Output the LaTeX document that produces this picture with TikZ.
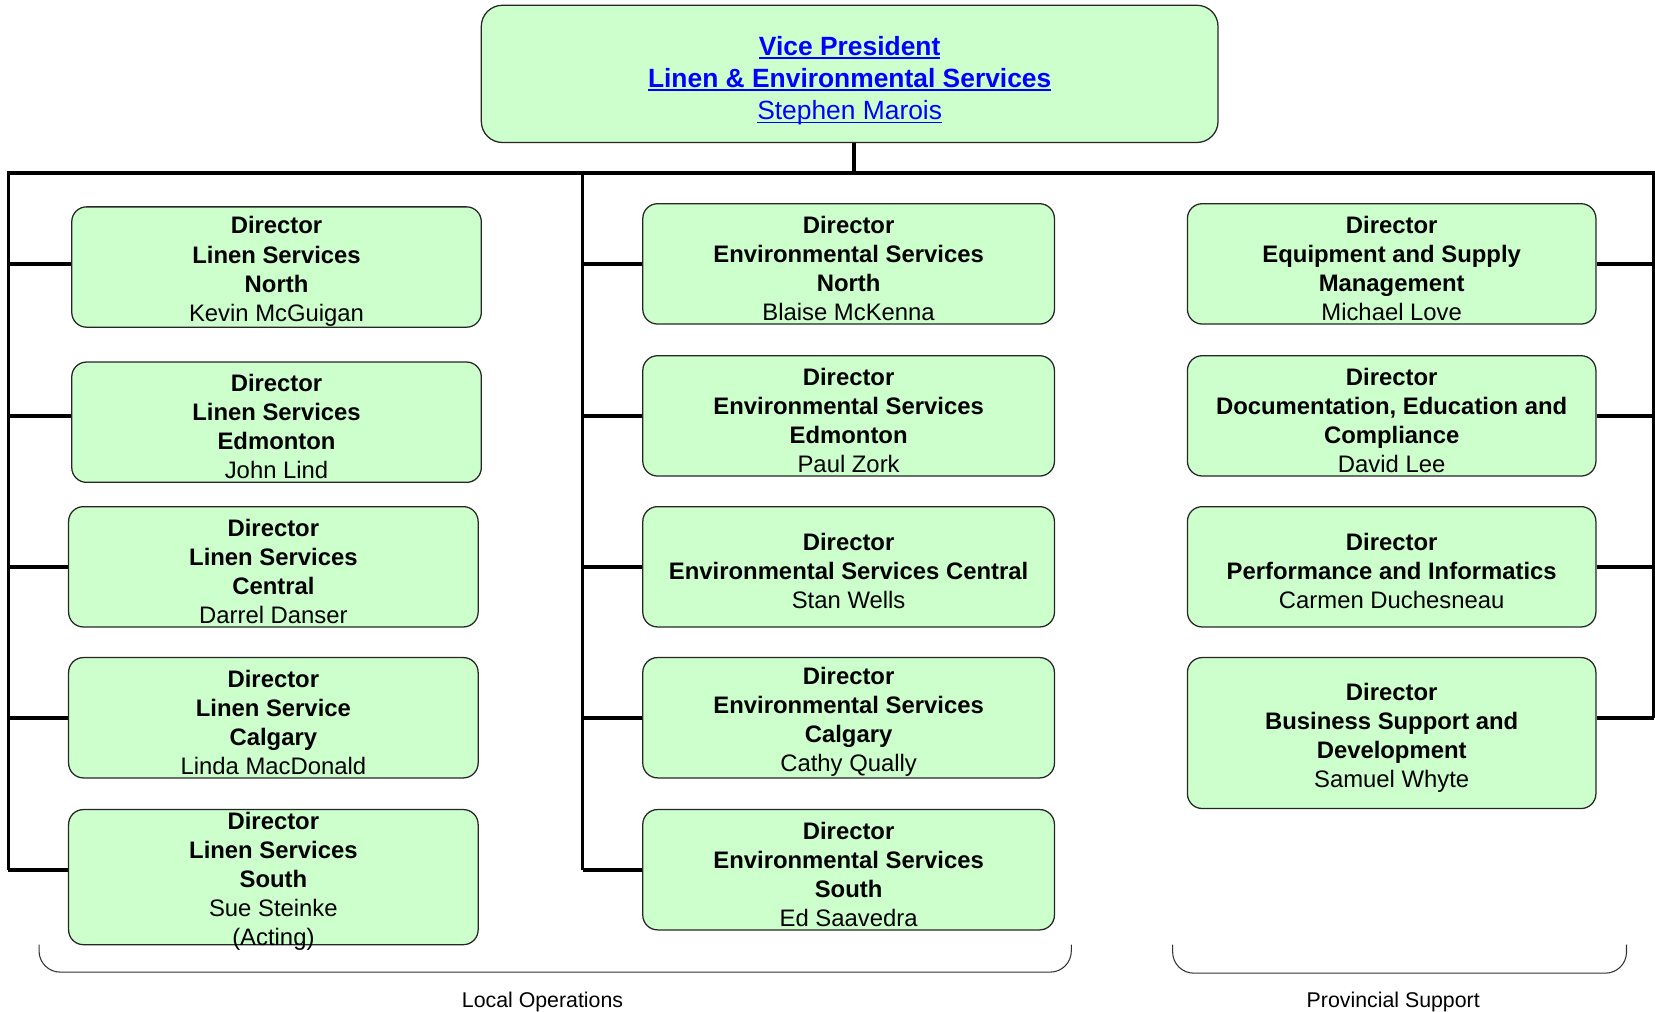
\documentclass[tikz,border=0pt]{standalone}
\usepackage{fontspec}
\setmainfont{Liberation Sans}
\definecolor{boxgreen}{HTML}{CCFFCC}
\definecolor{linkblue}{HTML}{0000FF}
\newcommand\myul[1]{\setbox0\hbox{#1}\rlap{\rule[-1.7pt]{\wd0}{0.9pt}}\box0}
\begin{document}
\begin{tikzpicture}[x=0.5pt,y=-0.5pt,
  box/.style={draw=black!85, line width=0.6pt, fill=boxgreen, rounded corners=7pt, inner sep=0pt},
  lbox/.style={box, minimum width=194pt, minimum height=57pt},
  mbox/.style={box, minimum width=195pt, minimum height=57pt},
  rbox/.style={box, minimum width=193.5pt, minimum height=57pt},
  txt/.style={align=center, inner sep=0pt, yshift=-1.3pt, font=\fontsize{11.3}{13.75}\selectfont},
  bus/.style={line width=1.7pt, black},
  bracket/.style={line width=0.5pt, black!80, rounded corners=10pt},
  lab/.style={inner sep=0pt, yshift=-1.5pt, font=\fontsize{10.1}{12}\selectfont},
]
\useasboundingbox (0,0) rectangle (1568,958);

% top box
\node[box, rounded corners=10pt, minimum width=349pt, minimum height=65pt] (top) at (805,70) {};
\node[txt, yshift=-1pt, font=\fontsize{12.5}{15.25}\selectfont, text=linkblue] (toptxt) at (805,72)
  {\textbf{\myul{Vice President}}\\ \textbf{\myul{Linen \& Environmental Services}}\\ \myul{Stephen Marois}};

% left column
\node[lbox] (L1) at (262,253) {};
\node[txt] at (262,254.5) {\textbf{Director}\\ \textbf{Linen Services}\\ \textbf{North}\\ Kevin McGuigan};
\node[lbox] (L2) at (262,400) {};
\node[txt] at (262,401.5) {\textbf{Director}\\ \textbf{Linen Services}\\ \textbf{Edmonton}\\ John Lind};
\node[lbox] (L3) at (259,537) {};
\node[txt] at (259,538.5) {\textbf{Director}\\ \textbf{Linen Services}\\ \textbf{Central}\\ Darrel Danser};
\node[lbox] (L4) at (259,680) {};
\node[txt] at (259,681.5) {\textbf{Director}\\ \textbf{Linen Service}\\ \textbf{Calgary}\\ Linda MacDonald};
\node[lbox, minimum height=64pt] (L5) at (259,831) {};
\node[txt] at (259,832.5) {\textbf{Director}\\ \textbf{Linen Services}\\ \textbf{South}\\ Sue Steinke\\ (Acting)};

% middle column
\node[mbox] (M1) at (804,250) {};
\node[txt] at (804,251.5) {\textbf{Director}\\ \textbf{Environmental Services}\\ \textbf{North}\\ Blaise McKenna};
\node[mbox] (M2) at (804,394) {};
\node[txt] at (804,395.5) {\textbf{Director}\\ \textbf{Environmental Services}\\ \textbf{Edmonton}\\ Paul Zork};
\node[mbox] (M3) at (804,537) {};
\node[txt] at (804,538.5) {\textbf{Director}\\ \textbf{Environmental Services Central}\\ Stan Wells};
\node[mbox] (M4) at (804,680) {};
\node[txt] at (804,681.5) {\textbf{Director}\\ \textbf{Environmental Services}\\ \textbf{Calgary}\\ Cathy Qually};
\node[mbox] (M5) at (804,824) {};
\node[txt] at (804,825.5) {\textbf{Director}\\ \textbf{Environmental Services}\\ \textbf{South}\\ Ed Saavedra};

% right column
\node[rbox] (R1) at (1318.5,250) {};
\node[txt] at (1318.5,251.5) {\textbf{Director}\\ \textbf{Equipment and Supply}\\ \textbf{Management}\\ Michael Love};
\node[rbox] (R2) at (1318.5,394) {};
\node[txt] at (1318.5,395.5) {\textbf{Director}\\ \textbf{Documentation, Education and}\\ \textbf{Compliance}\\ David Lee};
\node[rbox] (R3) at (1318.5,537) {};
\node[txt] at (1318.5,538.5) {\textbf{Director}\\ \textbf{Performance and Informatics}\\ Carmen Duchesneau};
\node[rbox, minimum height=71.5pt] (R4) at (1318.5,694.5) {};
\node[txt] at (1318.5,696) {\textbf{Director}\\ \textbf{Business Support and}\\ \textbf{Development}\\ Samuel Whyte};

% bus coordinates
\coordinate (busTop) at (809,164);
\coordinate (busL) at (8,164);
\coordinate (busM) at (552,164);
\coordinate (busR) at (1567,164);

\draw[bus] (top.south -| busTop) -- (busTop);
\draw[bus] (8,824) -- (busL) -- (busR) -- (1567,680);
\draw[bus] (busM) -- (552,824);

% left branches
\draw[bus] (8,250) -- (L1.west |- {(0,250)});
\draw[bus] (8,394) -- (L2.west |- {(0,394)});
\draw[bus] (8,537) -- (L3.west |- {(0,537)});
\draw[bus] (8,680) -- (L4.west |- {(0,680)});
\draw[bus] (8,824) -- (L5.west |- {(0,824)});
% middle branches
\draw[bus] (552,250) -- (M1.west);
\draw[bus] (552,394) -- (M2.west);
\draw[bus] (552,537) -- (M3.west);
\draw[bus] (552,680) -- (M4.west);
\draw[bus] (552,824) -- (M5.west);
% right branches
\draw[bus] (R1.east) -- (1567,250);
\draw[bus] (R2.east) -- (1567,394);
\draw[bus] (R3.east) -- (1567,537);
\draw[bus] (R4.east |- {(0,680)}) -- (1567,680);

% brackets
\draw[bracket] (37,895) -- (37,921) -- (1015,921) -- (1015,895);
\draw[bracket] (1111,895) -- (1111,922) -- (1541,922) -- (1541,895);
\node[lab] (lo) at (514,946) {Local Operations};
\node[lab] (ps) at (1320,946) {Provincial Support};
\end{tikzpicture}
\end{document}
